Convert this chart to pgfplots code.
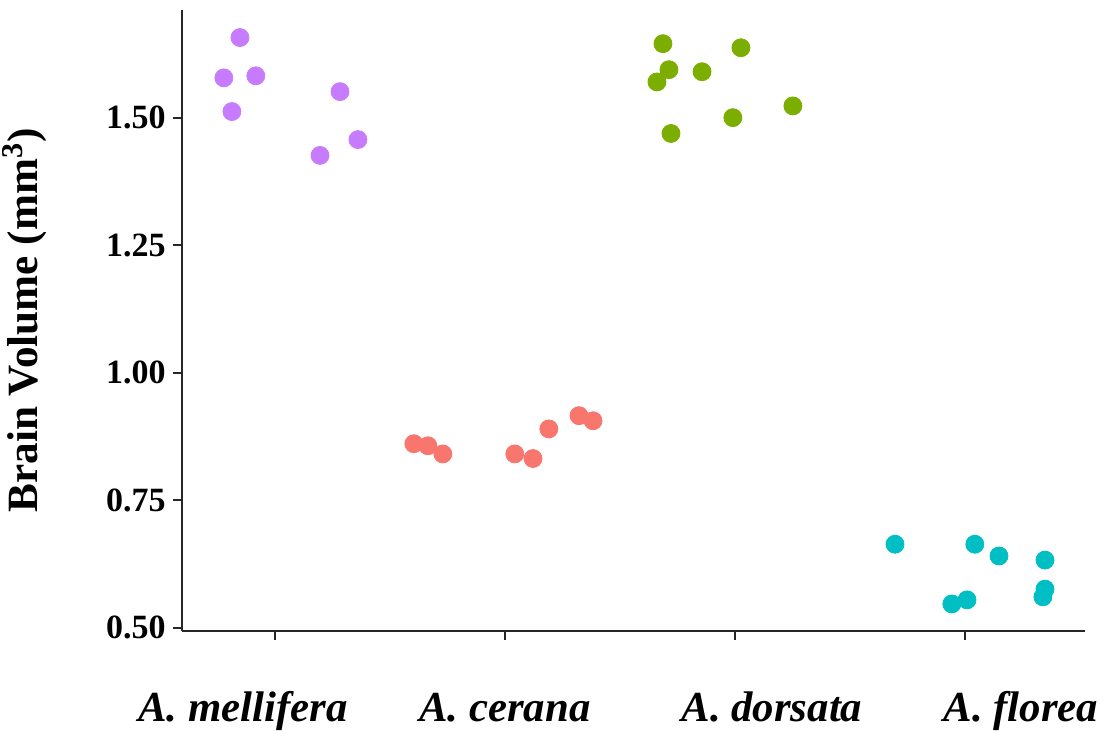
\documentclass[border=0pt]{standalone}
\usepackage{pgfplots}
\pgfplotsset{compat=1.18}
\usepackage{fontspec}
\setmainfont{Liberation Serif}
\definecolor{cmel}{HTML}{C77CFF}
\definecolor{ccer}{HTML}{F8766D}
\definecolor{cdor}{HTML}{7CAE00}
\definecolor{cflo}{HTML}{00BFC4}
\newcommand{\shiftlab}[2]{\hspace*{#1}#2\hspace*{-#1}}
\begin{document}
\begin{tikzpicture}
\useasboundingbox (-91pt,-50pt) rectangle (460.5pt,315.5pt);
\begin{axis}[
  at={(0,0)}, anchor=south west,
  scale only axis, width=451.5pt, height=310.5pt,
  xmin=0.596, xmax=4.522, ymin=0.494, ymax=1.711,
  axis lines=left,
  axis line style={-, line width=1pt, black!85},
  tick style={line width=1pt, black!85},
  tick align=outside, major tick length=4.5pt,
  xtick={1,2,3,4},
  xticklabels={\shiftlab{-16pt}{A. mellifera},A. cerana,\shiftlab{18.5pt}{A. dorsata},\shiftlab{28pt}{A. florea}},
  xticklabel style={font=\fontsize{21.4}{21.4}\selectfont\bfseries\itshape, anchor=base, inner sep=0pt, yshift=-41pt},
  ytick={0.5,0.75,1,1.25,1.5},
  yticklabel style={font=\fontsize{17}{17}\selectfont\bfseries, anchor=east, inner sep=0pt, xshift=-3.5pt,
    /pgf/number format/.cd, fixed, fixed zerofill, precision=2, assume math mode=true},
  ylabel={Brain Volume (mm\textsuperscript{3})},
  every axis y label/.style={at={(axis description cs:-0.1739,0.5)}, rotate=90, anchor=center,
    font=\fontsize{21.6}{21.6}\selectfont\bfseries},
  clip=false,
]
\addplot[only marks, mark=*, mark size=4.5pt, color=cmel] coordinates {
(0.848,1.657) (0.778,1.578) (0.917,1.582) (0.813,1.512) (1.283,1.551) (1.361,1.457) (1.196,1.426)
};
\addplot[only marks, mark=*, mark size=4.5pt, color=ccer] coordinates {
(1.604,0.861) (1.665,0.857) (1.730,0.841) (2.043,0.841) (2.122,0.832) (2.191,0.890) (2.322,0.916) (2.383,0.906)
};
\addplot[only marks, mark=*, mark size=4.5pt, color=cdor] coordinates {
(2.687,1.645) (3.026,1.637) (2.713,1.594) (2.857,1.590) (2.661,1.570) (3.252,1.523) (2.991,1.500) (2.722,1.469)
};
\addplot[only marks, mark=*, mark size=4.5pt, color=cflo] coordinates {
(3.696,0.664) (4.043,0.664) (4.148,0.641) (4.348,0.633) (4.348,0.576) (4.339,0.561) (4.009,0.555) (3.943,0.547)
};
\end{axis}
\end{tikzpicture}
\end{document}
